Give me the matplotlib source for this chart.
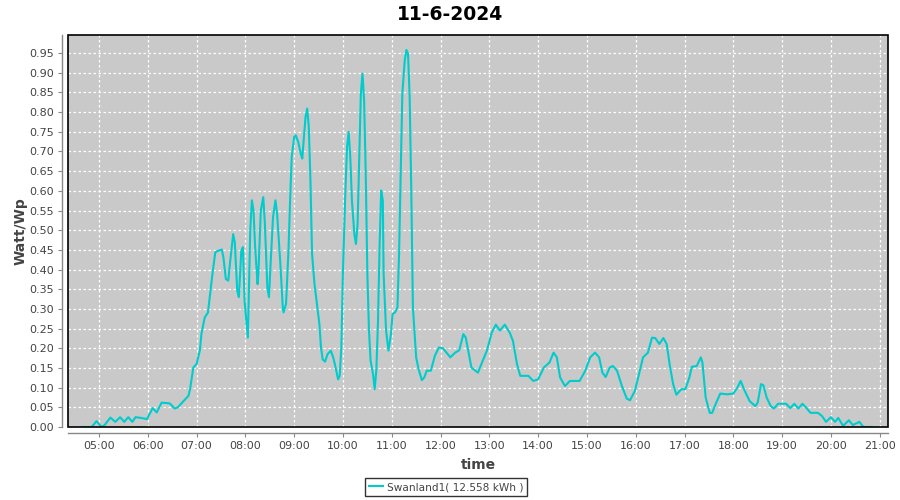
import matplotlib
matplotlib.use("Agg")
import matplotlib.pyplot as plt
from matplotlib.patches import Rectangle
from matplotlib.ticker import MultipleLocator, FuncFormatter

title = "11-6-2024"
series_name = "Swanland1( 12.558 kWh )"
x_label = "time"
y_label = "Watt/Wp"

times = ["04:39", "04:51", "04:57", "05:03", "05:07", "05:14", "05:20", "05:26", "05:31", "05:36",
         "05:41", "05:45", "05:52", "05:59", "06:02", "06:06", "06:11", "06:17", "06:27", "06:33",
         "06:37", "06:44", "06:50", "06:52", "06:56", "07:00", "07:04", "07:06", "07:10", "07:14",
         "07:19", "07:23", "07:27", "07:31", "07:33", "07:36", "07:39", "07:41", "07:45", "07:47",
         "07:50", "07:52", "07:55", "07:57", "07:59", "08:03", "08:04", "08:06", "08:08", "08:10",
         "08:12", "08:15", "08:16", "08:19", "08:22", "08:24", "08:27", "08:29", "08:31", "08:34",
         "08:37", "08:39", "08:43", "08:46", "08:47", "08:50", "08:53", "08:55", "08:57", "09:00",
         "09:02", "09:05", "09:08", "09:10", "09:12", "09:14", "09:16", "09:18", "09:20", "09:22",
         "09:25", "09:28", "09:31", "09:33", "09:35", "09:38", "09:41", "09:45", "09:48", "09:51",
         "09:54", "09:56", "09:58", "10:00", "10:03", "10:05", "10:07", "10:09", "10:11", "10:14",
         "10:16", "10:18", "10:20", "10:22", "10:24", "10:26", "10:28", "10:30", "10:32", "10:34",
         "10:37", "10:39", "10:41", "10:43", "10:45", "10:47", "10:49", "10:50", "10:53", "10:56",
         "10:59", "11:01", "11:04", "11:07", "11:09", "11:11", "11:13", "11:16", "11:18", "11:20",
         "11:22", "11:24", "11:26", "11:30", "11:33", "11:37", "11:40", "11:43", "11:48", "11:53",
         "11:58", "12:03", "12:12", "12:18", "12:23", "12:28", "12:31", "12:38", "12:46", "12:51",
         "12:57", "13:03", "13:08", "13:13", "13:19", "13:25", "13:29", "13:34", "13:38", "13:48",
         "13:54", "14:00", "14:07", "14:14", "14:19", "14:23", "14:27", "14:33", "14:39", "14:51",
         "14:58", "15:04", "15:10", "15:15", "15:19", "15:23", "15:28", "15:32", "15:37", "15:43",
         "15:49", "15:53", "15:59", "16:03", "16:09", "16:15", "16:20", "16:24", "16:29", "16:34",
         "16:38", "16:42", "16:46", "16:50", "16:56", "17:01", "17:06", "17:09", "17:15", "17:20",
         "17:22", "17:26", "17:31", "17:34", "17:39", "17:44", "17:52", "18:00", "18:05", "18:09",
         "18:14", "18:20", "18:27", "18:30", "18:34", "18:37", "18:41", "18:46", "18:50", "18:55",
         "19:05", "19:10", "19:15", "19:20", "19:25", "19:30", "19:35", "19:44", "19:49", "19:54",
         "20:00", "20:05", "20:09", "20:15", "20:22", "20:27", "20:35", "20:40", "20:50"]

values = [0.0, 0.0, 0.015, 0.0, 0.005, 0.024, 0.013, 0.025, 0.013, 0.025,
          0.013, 0.025, 0.023, 0.02, 0.032, 0.048, 0.037, 0.062, 0.06, 0.047,
          0.05, 0.066, 0.079, 0.096, 0.151, 0.16, 0.194, 0.237, 0.278, 0.291,
          0.38, 0.444, 0.448, 0.451, 0.431, 0.376, 0.372, 0.414, 0.49, 0.469,
          0.346, 0.33, 0.448, 0.457, 0.321, 0.227, 0.313, 0.5, 0.576, 0.55,
          0.457, 0.363, 0.39, 0.55, 0.584, 0.516, 0.355, 0.33, 0.414, 0.533,
          0.576, 0.542, 0.415, 0.304, 0.291, 0.313, 0.448, 0.576, 0.686, 0.737,
          0.741, 0.724, 0.695, 0.682, 0.737, 0.788, 0.809, 0.762, 0.627, 0.44,
          0.363, 0.313, 0.262, 0.202, 0.172, 0.166, 0.185, 0.194, 0.177, 0.151,
          0.121, 0.13, 0.202, 0.397, 0.601, 0.711, 0.75, 0.686, 0.576, 0.49,
          0.465, 0.516, 0.678, 0.847, 0.898, 0.83, 0.644, 0.389, 0.245, 0.168,
          0.134, 0.096, 0.143, 0.262, 0.457, 0.601, 0.576, 0.389, 0.245, 0.194,
          0.236, 0.287, 0.291, 0.304, 0.44, 0.644, 0.847, 0.932, 0.958, 0.949,
          0.839, 0.601, 0.304, 0.177, 0.147, 0.119, 0.126, 0.143, 0.143, 0.181,
          0.202, 0.2, 0.177, 0.189, 0.195, 0.236, 0.227, 0.151, 0.138, 0.164,
          0.194, 0.24, 0.26, 0.245, 0.26, 0.24, 0.219, 0.16, 0.13, 0.13,
          0.117, 0.121, 0.151, 0.164, 0.189, 0.177, 0.126, 0.104, 0.117, 0.117,
          0.143, 0.177, 0.189, 0.177, 0.138, 0.127, 0.151, 0.155, 0.143, 0.104,
          0.072, 0.068, 0.092, 0.126, 0.177, 0.189, 0.227, 0.226, 0.211, 0.226,
          0.211, 0.155, 0.109, 0.082, 0.096, 0.096, 0.126, 0.153, 0.155, 0.177,
          0.164, 0.075, 0.036, 0.036, 0.062, 0.085, 0.083, 0.085, 0.1, 0.117,
          0.092, 0.066, 0.053, 0.062, 0.109, 0.106, 0.075, 0.053, 0.047, 0.059,
          0.059, 0.048, 0.059, 0.047, 0.059, 0.048, 0.036, 0.036, 0.028, 0.013,
          0.025, 0.013, 0.023, 0.003, 0.017, 0.005, 0.013, 0.0, 0.0]

x_ticks = ["05:00", "06:00", "07:00", "08:00", "09:00", "10:00", "11:00", "12:00",
           "13:00", "14:00", "15:00", "16:00", "17:00", "18:00", "19:00", "20:00", "21:00"]


def to_hours(s):
    h, m = s.split(":")
    return int(h) + int(m) / 60.0


hours = [to_hours(t) for t in times]
tick_pos = [to_hours(t) for t in x_ticks]

fig = plt.figure(figsize=(9, 5), dpi=100)
ax = fig.add_axes([68 / 900, 1 - 427 / 500, (888 - 68) / 900, (427 - 35) / 500])
ax.set_facecolor("#c9c9c9")

ax.plot(hours, values, color="#00cccc", linewidth=1.5, label=series_name)

ax.set_xlim(4.365, 21.17)
ax.set_ylim(0, 0.996)
ax.set_xticks(tick_pos)
ax.set_xticklabels(x_ticks)
ax.yaxis.set_major_locator(MultipleLocator(0.05))
ax.yaxis.set_major_formatter(FuncFormatter(lambda v, p: f"{v:.2f}"))

ax.grid(True, color="white", linestyle=(0, (2, 2)), linewidth=0.9)
ax.set_axisbelow(True)

for side in ["top", "right"]:
    ax.spines[side].set_visible(False)
for side in ["left", "bottom"]:
    ax.spines[side].set_position(("outward", 4))
    ax.spines[side].set_color("#888888")
    ax.spines[side].set_linewidth(1.0)
ax.add_patch(Rectangle((0, 0), 1, 1, transform=ax.transAxes, fill=False,
                       edgecolor="black", linewidth=1.2, clip_on=False, zorder=5))

ax.tick_params(axis="both", direction="out", length=3, width=0.8, color="#888888",
               labelsize=8, labelcolor="#444444", pad=3)

ax.set_xlabel(x_label, fontsize=10, fontweight="bold", color="#444444", labelpad=5)
ax.set_ylabel(y_label, fontsize=10, fontweight="bold", color="#444444", labelpad=1)

fig.text(0.5, 1 - 15 / 500, title, ha="center", va="center", fontsize=13.5,
         fontweight="bold", color="black")

leg = fig.legend(loc="center", bbox_to_anchor=(446 / 900, 1 - 487 / 500), frameon=True,
                 fontsize=7.6, handlelength=1.4, handletextpad=0.35, borderpad=0.35,
                 borderaxespad=0, fancybox=False, labelcolor="#444444")
leg.get_frame().set_edgecolor("black")
leg.get_frame().set_linewidth(1.0)

fig.savefig("out.png", dpi=100)
